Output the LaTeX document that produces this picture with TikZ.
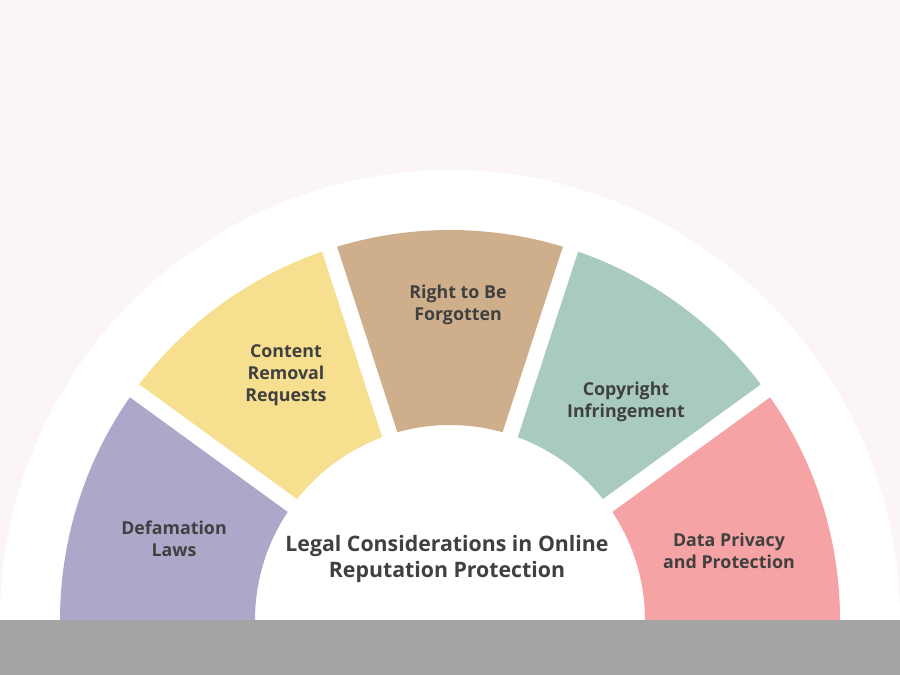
\documentclass[tikz,border=0pt]{standalone}
\usepackage{fontspec}
\setmainfont{Open Sans}
\definecolor{bgc}{HTML}{FBF5F5}
\definecolor{barc}{HTML}{A4A4A4}
\definecolor{txtc}{HTML}{404040}
\definecolor{purplec}{HTML}{ADA7C9}
\definecolor{yellowc}{HTML}{F6DF8F}
\definecolor{brownc}{HTML}{CFAE8C}
\definecolor{greenc}{HTML}{A9CBBE}
\definecolor{pinkc}{HTML}{F5A3A5}
\begin{document}
\begin{tikzpicture}[x=1pt,y=1pt,
  lbl/.style={text=txtc,align=center,font=\fontsize{17.8}{22}\selectfont\bfseries,inner sep=0pt},
  ttl/.style={text=txtc,align=center,font=\fontsize{21.3}{26.5}\selectfont\bfseries,inner sep=0pt}]
\useasboundingbox (0,0) rectangle (900,675);
\fill[bgc] (0,0) rectangle (900,675);
\fill[white] (900,55) arc[start angle=0,end angle=180,radius=450] -- cycle;
\begin{scope}[shift={(450,55)}]
\fill[pinkc] (0:390) arc[start angle=0,end angle=34.825,radius=390] -- (33.649:195) arc[start angle=33.649,end angle=0,radius=195] -- cycle;
\fill[greenc] (37.175:390) arc[start angle=37.175,end angle=70.825,radius=390] -- (69.649:195) arc[start angle=69.649,end angle=38.351,radius=195] -- cycle;
\fill[brownc] (73.175:390) arc[start angle=73.175,end angle=106.825,radius=390] -- (105.649:195) arc[start angle=105.649,end angle=74.351,radius=195] -- cycle;
\fill[yellowc] (109.175:390) arc[start angle=109.175,end angle=142.825,radius=390] -- (141.649:195) arc[start angle=141.649,end angle=110.351,radius=195] -- cycle;
\fill[purplec] (145.175:390) arc[start angle=145.175,end angle=180,radius=390] -- (180:195) arc[start angle=180,end angle=146.351,radius=195] -- cycle;
\end{scope}
\node[lbl] (defam) at (174,136) {Defamation\\Laws};
\node[lbl] (content) at (286,300) {Content\\Removal\\Requests};
\node[lbl] (right) at (458,370) {Right to Be\\Forgotten};
\node[lbl] (copy) at (626,273) {Copyright\\Infringement};
\node[lbl] (data) at (729,124) {Data Privacy\\and Protection};
\node[ttl] (title) at (447,116) {Legal Considerations in Online\\Reputation Protection};
\fill[barc] (0,0) rectangle (900,55);
\end{tikzpicture}
\end{document}
